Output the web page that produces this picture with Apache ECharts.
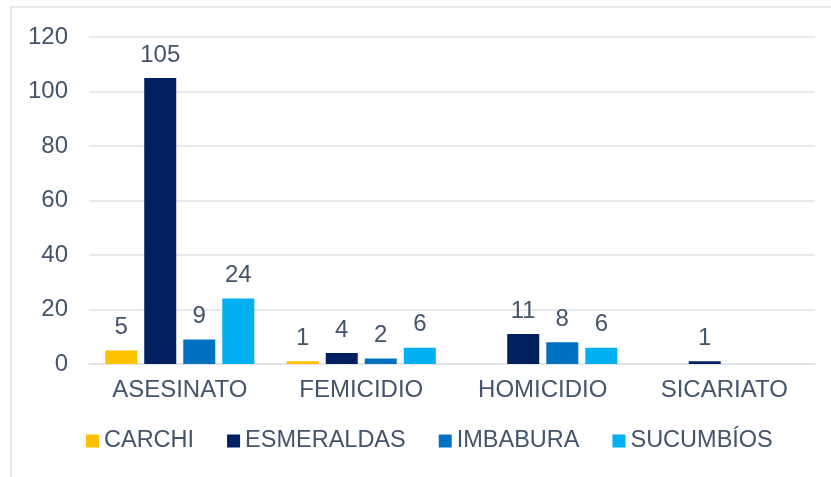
<!DOCTYPE html>
<html>
<head>
<meta charset="utf-8">
<script src="https://cdn.jsdelivr.net/npm/echarts@6/dist/echarts.min.js"></script>
<style>
    html, body { margin: 0; padding: 0; background: #fff; }
    #chart { width: 831px; height: 477px; }
</style>
</head>
<body>
<div id="chart"></div>
<script>
const categories = ['ASESINATO', 'FEMICIDIO', 'HOMICIDIO', 'SICARIATO'];
const seriesNames = ['CARCHI', 'ESMERALDAS', 'IMBABURA', 'SUCUMBÍOS'];
const carchi = [5, 1, '-', '-'];
const esmeraldas = [105, 4, 11, 1];
const imbabura = [9, 2, 8, '-'];
const sucumbios = [24, 6, 6, '-'];
const colors = ['#FFC000', '#002060', '#0070C0', '#00B0F0'];
const yTicks = { min: 0, max: 120, interval: 20 };

const textColor = '#44546A';
const font = 'Liberation Sans, Arial, sans-serif';

const myChart = echarts.init(document.getElementById('chart'));

const makeSeries = (name, data, color) => ({
    name: name,
    type: 'bar',
    data: data,
    barWidth: 32,
    barGap: '22%',
    itemStyle: { color: color },
    label: {
        show: true,
        position: 'top',
        distance: 11,
        color: textColor,
        fontSize: 24,
        fontFamily: font
    }
});

const option = {
    animation: false,
    backgroundColor: '#ffffff',
    graphic: [{
        type: 'rect',
        shape: { x: 11, y: 7, width: 900, height: 600 },
        style: { fill: 'none', stroke: '#dfe3ea', lineWidth: 1.5 },
        silent: true
    }],
    legend: {
        data: seriesNames,
        left: 86,
        top: 429,
        padding: 0,
        itemWidth: 13,
        itemHeight: 13,
        itemGap: 33,
        icon: 'rect',
        textStyle: { color: textColor, fontSize: 23.5, fontFamily: font }
    },
    grid: {
        left: 89,
        right: 16,
        top: 37,
        bottom: 113
    },
    xAxis: {
        type: 'category',
        data: categories,
        axisTick: { show: false },
        axisLine: { lineStyle: { color: '#dfe3ea', width: 1.5 } },
        axisLabel: { color: textColor, fontSize: 24, fontFamily: font, margin: 14 }
    },
    yAxis: {
        type: 'value',
        min: yTicks.min,
        max: yTicks.max,
        interval: yTicks.interval,
        axisLine: { show: false },
        axisTick: { show: false },
        axisLabel: { color: textColor, fontSize: 24, fontFamily: font, margin: 21 },
        splitLine: { lineStyle: { color: '#dfe3ea', width: 1.5 } }
    },
    series: [
        makeSeries(seriesNames[0], carchi, colors[0]),
        makeSeries(seriesNames[1], esmeraldas, colors[1]),
        makeSeries(seriesNames[2], imbabura, colors[2]),
        makeSeries(seriesNames[3], sucumbios, colors[3])
    ]
};

myChart.setOption(option);
window.addEventListener('resize', () => myChart.resize());
</script>
</body>
</html>
